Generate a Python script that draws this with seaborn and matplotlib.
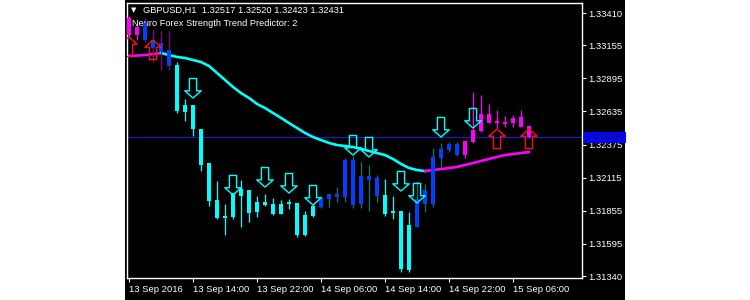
import numpy as np
import pandas as pd
import matplotlib
matplotlib.use("Agg")
import matplotlib.pyplot as plt
import seaborn as sns
from matplotlib.path import Path
from matplotlib.patches import Rectangle
import matplotlib.transforms as mtransforms

# ---------------- data ----------------
symbol_title = "GBPUSD,H1  1.32517 1.32520 1.32423 1.32431"
indicator_title = "Neuro Forex Strength Trend Predictor: 2"

opens = [1.33237, 1.33300, 1.33331, 1.33197, 1.33111, 1.33119, 1.33001, 1.32631, 1.32686, 1.32497,
         1.32229, 1.31938, 1.31797, 1.31804, 1.31970, 1.32017, 1.31844, 1.31922, 1.31907, 1.31828,
         1.31907, 1.31915, 1.31663, 1.31812, 1.31883, 1.31946, 1.31962, 1.31962, 1.32253, 1.31907,
         1.32127, 1.32111, 1.31978, 1.31836, 1.31852, 1.31387, 1.31726, 1.31907, 1.31907, 1.32269,
         1.32332, 1.32292, 1.32292, 1.32395, 1.32481, 1.32615, 1.32544, 1.32552, 1.32544, 1.32591,
         1.32517]
highs = [1.33386, 1.33331, 1.33371, 1.33276, 1.33268, 1.33268, 1.33024, 1.32733, 1.32686, 1.32497,
         1.32229, 1.32088, 1.31907, 1.31993, 1.32096, 1.32017, 1.31970, 1.31985, 1.31954, 1.31938,
         1.31946, 1.31915, 1.31852, 1.31907, 1.31970, 1.31985, 1.32040, 1.32269, 1.32285, 1.32237,
         1.32214, 1.32135, 1.32103, 1.31970, 1.31852, 1.31844, 1.32088, 1.32064, 1.32348, 1.32387,
         1.32395, 1.32395, 1.32403, 1.32788, 1.32765, 1.32694, 1.32647, 1.32599, 1.32607, 1.32647,
         1.32520]
lows = [1.33221, 1.33197, 1.33182, 1.33024, 1.32961, 1.32961, 1.32623, 1.32560, 1.32442, 1.32166,
        1.31891, 1.31789, 1.31663, 1.31789, 1.31726, 1.31765, 1.31804, 1.31891, 1.31820, 1.31828,
        1.31867, 1.31647, 1.31655, 1.31804, 1.31875, 1.31883, 1.31922, 1.31922, 1.31875, 1.31875,
        1.31852, 1.31922, 1.31812, 1.31789, 1.31372, 1.31372, 1.31726, 1.31844, 1.31883, 1.32198,
        1.32316, 1.32285, 1.32269, 1.32387, 1.32473, 1.32544, 1.32505, 1.32513, 1.32513, 1.32513,
        1.32423]
closes = [1.33371, 1.33237, 1.33197, 1.33135, 1.33174, 1.32993, 1.32639, 1.32686, 1.32497, 1.32214,
          1.31930, 1.31797, 1.31812, 1.31993, 1.32025, 1.31836, 1.31922, 1.31899, 1.31828, 1.31907,
          1.31922, 1.31663, 1.31820, 1.31891, 1.31954, 1.31985, 1.31985, 1.32253, 1.31899, 1.32127,
          1.32096, 1.31970, 1.31828, 1.31852, 1.31395, 1.31741, 1.31946, 1.32017, 1.32277, 1.32340,
          1.32379, 1.32379, 1.32403, 1.32489, 1.32615, 1.32544, 1.32560, 1.32536, 1.32584, 1.32513,
          1.32431]
# body colour codes: M magenta, B blue, C cyan
body_codes = list("MMBBBBCCCCCCCCCCCCCCCCCCBBBBBBBBCCCCBBBBBBMMMMMMMMM")
# wick colour codes: M magenta, P purple, C cyan, T teal
wick_codes = list("MMPPPPCCCCCCCCCCCCCCCCCCTTTTTTTTCCCCTTTTTTMMMMMMMMM")

ma_values = [1.33072, 1.33075, 1.33079, 1.33087, 1.33095, 1.33079, 1.33064, 1.33056, 1.33040, 1.33024,
             1.32993, 1.32938, 1.32883, 1.32828, 1.32780, 1.32741, 1.32694, 1.32662, 1.32623, 1.32584,
             1.32544, 1.32505, 1.32466, 1.32434, 1.32410, 1.32387, 1.32371, 1.32363, 1.32355, 1.32340,
             1.32324, 1.32308, 1.32292, 1.32261, 1.32222, 1.32190, 1.32174, 1.32166, 1.32174, 1.32182,
             1.32190, 1.32198, 1.32214, 1.32229, 1.32245, 1.32261, 1.32277, 1.32292, 1.32300, 1.32308,
             1.32316]
ma_up_until = 4        # bars 0..4 magenta
ma_down_until = 37     # bars 4..37 cyan, 37.. magenta

down_arrow_bars = [8, 13, 17, 20, 23, 28, 30, 34, 36, 39, 43]
down_arrow_prices = [1.32741, 1.31978, 1.32040, 1.31993, 1.31899, 1.32292, 1.32277, 1.32009,
                     1.31915, 1.32434, 1.32505]
up_arrow_bars = [0, 3, 46, 50]
up_arrow_prices = [1.33221, 1.33197, 1.32497, 1.32497]

current_price = 1.32431
price_ticks = [1.33410, 1.33155, 1.32895, 1.32635, 1.32375, 1.32115, 1.31855, 1.31595, 1.31340]
time_tick_bars = [0, 8, 16, 24, 32, 40, 48]
time_tick_labels = ["13 Sep 2016", "13 Sep 14:00", "13 Sep 22:00", "14 Sep 06:00",
                    "14 Sep 14:00", "14 Sep 22:00", "15 Sep 06:00"]

# ---------------- style ----------------
COL = {"M": "#ff00ff", "B": "#0040ff", "C": "#00ffff", "P": "#8a008a", "T": "#007b7b"}
FONT = ["Liberation Sans", "DejaVu Sans"]
plt.rcParams["font.family"] = FONT

W, H = 750, 300
fig = plt.figure(figsize=(7.5, 3.0), dpi=100, facecolor="white")
fig.patches.append(Rectangle((125 / W, 0), 500 / W, 1, transform=fig.transFigure,
                             facecolor="black", edgecolor="none", zorder=-10))
left, right, top, bottom = 127, 582, 3, 278
ax = fig.add_axes([left / W, (H - bottom) / H, (right - left) / W, (bottom - top) / H])
ax.set_zorder(1)
ax.set_facecolor("black")

n = len(opens)
bars = np.arange(n)
df = pd.DataFrame({"bar": bars, "open": opens, "high": highs, "low": lows, "close": closes,
                   "body": body_codes, "wick": wick_codes, "ma": ma_values})

# current price line
ax.axhline(current_price, color="#1a1ad8", lw=0.8, zorder=1)

# MA line in three segments
rows = []
for i in bars:
    if i <= ma_up_until:
        rows.append(("a", i, ma_values[i]))
    if ma_up_until <= i <= ma_down_until:
        rows.append(("b", i, ma_values[i]))
    if i >= ma_down_until:
        rows.append(("c", i, ma_values[i]))
ma_df = pd.DataFrame(rows, columns=["seg", "bar", "ma"])
sns.lineplot(data=ma_df, x="bar", y="ma", hue="seg",
             palette={"a": COL["M"], "b": COL["C"], "c": COL["M"]},
             estimator=None, sort=False, lw=1.9, legend=False, ax=ax, zorder=2)

# candles: wicks then bodies
ax.vlines(df["bar"], df["low"], df["high"], colors=[COL[c] for c in df["wick"]],
          lw=0.9, zorder=3)
body_lo = np.minimum(df["open"], df["close"])
body_hi = np.maximum(df["open"], df["close"])
body_h = np.maximum(body_hi - body_lo, 0.00012)
ax.bar(df["bar"], body_h, bottom=body_lo, width=0.62,
       color=[COL[c] for c in df["body"]], edgecolor="none", zorder=4)

# arrows (tip at origin)
down_path = Path([(0, 0), (-8, 7), (-3.5, 7), (-3.5, 19), (3.5, 19), (3.5, 7), (8, 7), (0, 0)],
                 [Path.MOVETO] + [Path.LINETO] * 6 + [Path.CLOSEPOLY])
up_path = Path([(0, 0), (-8, -7), (-3.5, -7), (-3.5, -19), (3.5, -19), (3.5, -7), (8, -7), (0, 0)],
               [Path.MOVETO] + [Path.LINETO] * 6 + [Path.CLOSEPOLY])
arrow_s = 790
sns.scatterplot(x=down_arrow_bars, y=down_arrow_prices, marker=down_path, s=arrow_s,
                color="none", edgecolor=COL["C"], linewidth=1.0, ax=ax, zorder=5, legend=False)
sns.scatterplot(x=up_arrow_bars, y=up_arrow_prices, marker=up_path, s=arrow_s,
                color="none", edgecolor="#ff1010", linewidth=1.0, ax=ax, zorder=5, legend=False)

# limits (pixel-calibrated)
ppx = (price_ticks[0] - price_ticks[-1]) / (276 - 13)
ax.set_ylim(price_ticks[0] - (bottom - 13) * ppx, price_ticks[0] + (13 - top) * ppx)
ax.set_xlim(-0.25, (right - 129) / 8)

# axes styling
for sp in ax.spines.values():
    sp.set_color("white")
    sp.set_linewidth(1.0)
ax.yaxis.tick_right()
ax.set_yticks(price_ticks)
ax.set_yticklabels([f"{p:.5f}" for p in price_ticks])
ax.set_xticks(time_tick_bars)
ax.set_xticklabels(time_tick_labels)
ax.tick_params(axis="both", colors="white", labelcolor="white", labelsize=6.8,
               length=3, width=0.8, direction="out")
ax.tick_params(axis="y", pad=1.5)
ax.tick_params(axis="x", pad=2)
for lab in ax.get_xticklabels():
    lab.set_horizontalalignment("left")
ax.set_xlabel("")
ax.set_ylabel("")
ax.grid(False)

# current price box on the price scale
blend = mtransforms.blended_transform_factory(ax.transAxes, ax.transData)
box_h = 11 * ppx
ax.add_patch(Rectangle((1 + 2 / (right - left), current_price - box_h / 2), 42 / (right - left), box_h,
                       transform=blend, facecolor="#0000ff", edgecolor="none",
                       clip_on=False, zorder=10))
ax.text(1 + 6 / (right - left), current_price, f"{current_price:.5f}", transform=blend,
        color="#202050", fontsize=6.8, va="center", ha="left", zorder=11, clip_on=False)

# titles
ax.text(4 / (right - left), 1 - 7 / (bottom - top), "\u25BC", transform=ax.transAxes,
        color="white", fontsize=5, va="center", ha="left", family=["DejaVu Sans"])
ax.text(16 / (right - left), 1 - 7 / (bottom - top), symbol_title, transform=ax.transAxes,
        color="white", fontsize=6.7, va="center", ha="left")
ax.text(5 / (right - left), 1 - 21 / (bottom - top), indicator_title, transform=ax.transAxes,
        color="white", fontsize=6.7, va="center", ha="left")

fig.savefig("out.png", dpi=100, facecolor="white")
